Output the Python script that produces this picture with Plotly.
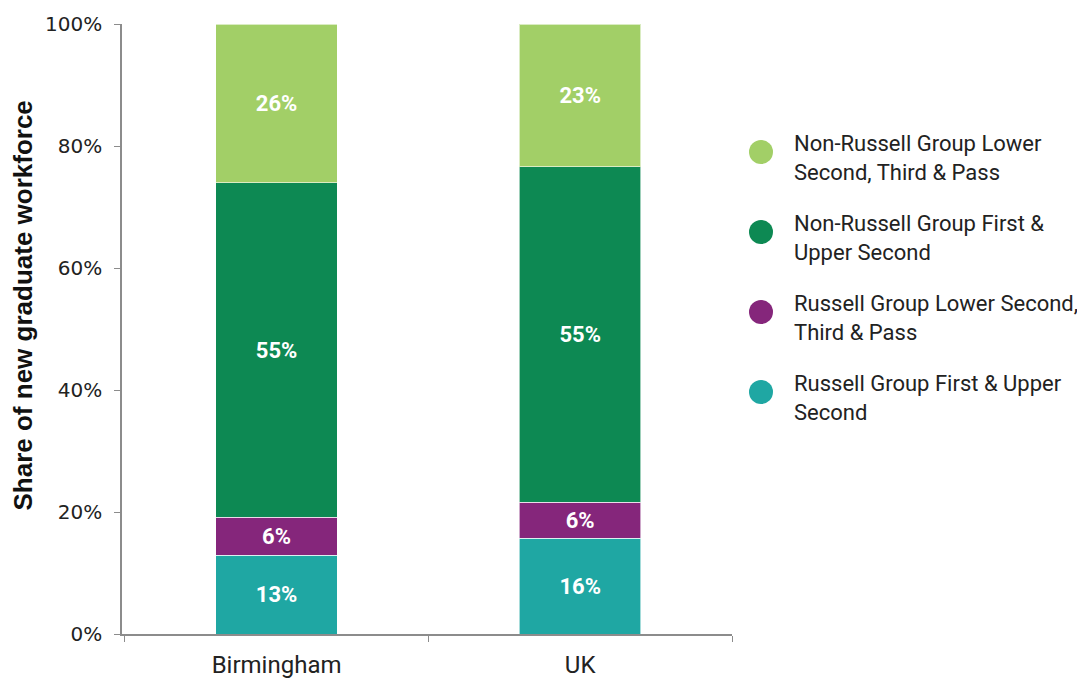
import plotly.graph_objects as go

categories = ["Birmingham", "UK"]
series_names = [
    "Russell Group First & Upper<br>Second",
    "Russell Group Lower Second,<br>Third & Pass",
    "Non-Russell Group First &<br>Upper Second",
    "Non-Russell Group Lower<br>Second, Third & Pass",
]
rg_first = [12.9, 15.7]
rg_lower = [6.2, 5.9]
nrg_first = [54.9, 55.0]
nrg_lower = [26.0, 23.4]
series_values = [rg_first, rg_lower, nrg_first, nrg_lower]
colors = ["#1fa7a3", "#85267b", "#0d8953", "#a2cf67"]
y_ticks = [0, 20, 40, 60, 80, 100]
y_tick_labels = ["0%", "20%", "40%", "60%", "80%", "100%"]
y_title = "Share of new graduate workforce"

W, H = 1085, 680
ML, MR, MT, MB = 114, 361, 16, 54
PW = W - ML - MR
PH = H - MT - MB


def px_x(px):
    return (px - ML) / PW


def px_y(py):
    return (H - MB - py) / PH


fig = go.Figure()
for name, vals, col in zip(series_names, series_values, colors):
    fig.add_trace(go.Bar(
        x=categories, y=vals, name=name,
        marker=dict(color=col, line=dict(color="rgba(255,255,255,0.6)", width=1)),
        width=0.4, text=vals, texttemplate="%{y:.0f}%", textposition="inside",
        insidetextanchor="middle", textangle=0,
        textfont=dict(color="white", size=22, family="Roboto", weight="bold"),
        showlegend=False, hoverinfo="skip",
    ))

# custom legend: big circles + two-line labels, top to bottom
shapes, annotations = [], []
for i, (name, col) in enumerate(reversed(list(zip(series_names, colors)))):
    cy = 144 + 80 * i
    shapes.append(dict(type="circle", xref="paper", yref="paper",
                       xsizemode="pixel", ysizemode="pixel",
                       xanchor=px_x(753), yanchor=px_y(cy),
                       x0=-12, x1=12, y0=-12, y1=12,
                       fillcolor=col, line=dict(width=0)))
    annotations.append(dict(text=name, xref="paper", yref="paper",
                            x=px_x(784), y=px_y(cy + 6), xanchor="left", yanchor="middle",
                            align="left", showarrow=False,
                            font=dict(family="Roboto", size=22, color="#222")))

# y-axis title (offset above plot centre as in the original)
annotations.append(dict(text="<b>" + y_title + "</b>", xref="paper", yref="paper",
                        x=px_x(14.5), y=px_y(298), xanchor="center", yanchor="middle",
                        textangle=-90, showarrow=False,
                        font=dict(family="Liberation Sans", size=26, color="#111")))

fig.update_layout(
    width=W, height=H,
    barmode="stack",
    plot_bgcolor="white", paper_bgcolor="white",
    margin=dict(l=ML, r=MR, t=MT, b=MB, autoexpand=False),
    showlegend=False,
    shapes=shapes, annotations=annotations,
    xaxis=dict(showline=True, linecolor="#8c8c8c", linewidth=1.5, automargin=False,
               ticks="outside", tickson="boundaries", ticklen=6, tickcolor="#8c8c8c",
               tickfont=dict(family="Roboto", size=24, color="#222"),
               ticklabelstandoff=8,
               range=[-0.509, 1.5]),
    yaxis=dict(range=[0, 100], tickvals=y_ticks, ticktext=y_tick_labels, automargin=False,
               showline=True, linecolor="#8c8c8c", linewidth=1.5,
               ticks="outside", ticklen=6, tickcolor="#8c8c8c",
               showgrid=False, zeroline=False, ticklabelstandoff=8,
               tickfont=dict(family="DejaVu Sans", size=20, color="#222")),
)

fig.write_html("out.html")
